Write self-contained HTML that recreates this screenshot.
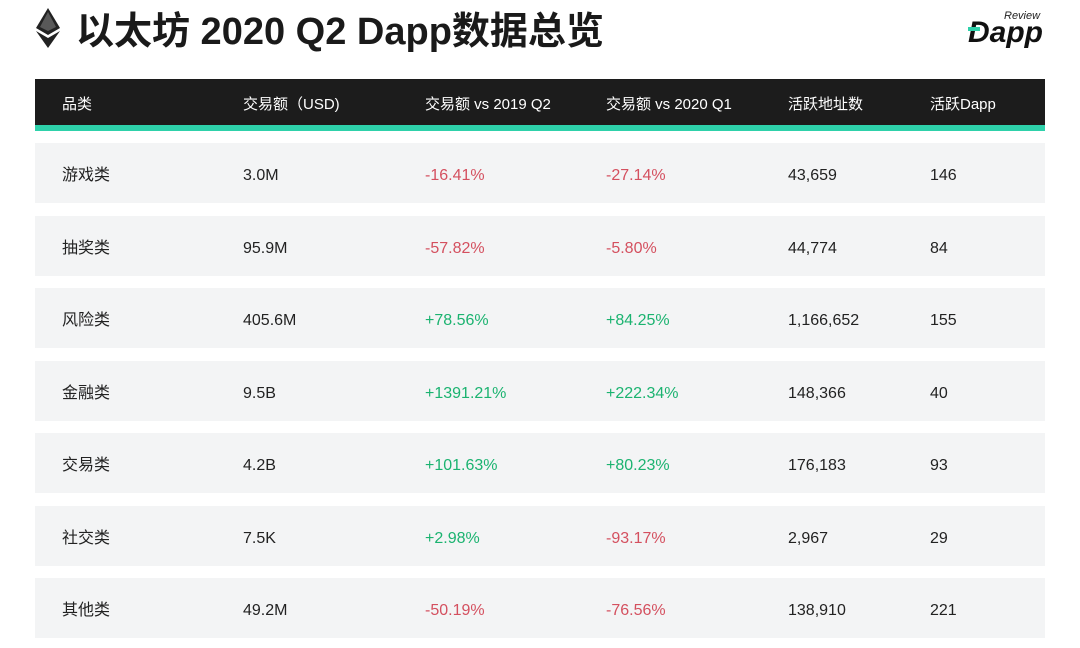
<!DOCTYPE html>
<html><head><meta charset="utf-8"><style>
*{margin:0;padding:0;box-sizing:border-box}
body{width:1080px;height:648px;background:#fff;position:relative;overflow:hidden;font-family:"Liberation Sans","Noto Sans CJK SC",sans-serif;color:#222}
.abs{position:absolute}
#title{left:76px;top:7px;font-size:38px;font-weight:bold;color:#1a1a1a;line-height:50px;letter-spacing:0px}
#header{left:35px;top:79px;width:1010px;height:47px;background:#1c1c1c}
#strip{left:35px;top:125px;width:1010px;height:6px;background:#2ed1aa}
.row{position:absolute;left:35px;width:1010px;height:60px;background:#f3f4f5}
.cell{position:absolute;font-size:16px;line-height:20px;white-space:nowrap}
.h{color:#fff;font-size:15px}
.neg{color:#d4505f}.pos{color:#1bb370}
</style></head><body>
<svg class="abs" style="left:36px;top:8px" width="24" height="40" viewBox="0 0 24 40"><polygon points="12,0 24,20 12,27 0,20" fill="#222"/><polygon points="12,30 24,23 12,40 0,23" fill="#222"/><polygon points="12,4 20,19 12,23 4,19" fill="#fff" opacity="0.25"/></svg>
<div id="title" class="abs">以太坊 2020 Q2 Dapp数据总览</div>
<div class="abs" style="left:968px;top:8px;width:80px;height:40px">
<div class="abs" style="left:36px;top:2px;font-size:11px;font-style:italic;color:#222">Review</div>
<div class="abs" style="left:0;top:8px;font-size:30px;font-weight:bold;font-style:italic;color:#111;line-height:34px">Dapp</div>
<div class="abs" style="left:0px;top:19px;width:12px;height:4px;background:#2ed1aa"></div>
</div>
<div id="header" class="abs"></div>
<div id="strip" class="abs"></div>
<div id="tbl"></div>
<script>
const headers=["品类","交易额（USD)","交易额 vs 2019 Q2","交易额 vs 2020 Q1","活跃地址数","活跃Dapp"];
const categories=["游戏类","抽奖类","风险类","金融类","交易类","社交类","其他类"];
const volumes=["3.0M","95.9M","405.6M","9.5B","4.2B","7.5K","49.2M"];
const yoy=["-16.41%","-57.82%","+78.56%","+1391.21%","+101.63%","+2.98%","-50.19%"];
const qoq=["-27.14%","-5.80%","+84.25%","+222.34%","+80.23%","-93.17%","-76.56%"];
const addrs=["43,659","44,774","1,166,652","148,366","176,183","2,967","138,910"];
const dapps=["146","84","155","40","93","29","221"];
const colX=[62,243,425,606,788,930];
const b=document.body;
headers.forEach((t,i)=>{const d=document.createElement('div');d.className='cell h';d.style.left=colX[i]+'px';d.style.top='95px';d.textContent=t;


b.appendChild(d);});
categories.forEach((c,r)=>{
const top=143+r*72.5;
const row=document.createElement('div');row.className='row';row.style.top=top+'px';


b.appendChild(row);
const vals=[c,volumes[r],yoy[r],qoq[r],addrs[r],dapps[r]];
vals.forEach((v,i)=>{const d=document.createElement('div');d.className='cell';
if(i==2||i==3)d.className+=v[0]=='-'?' neg':' pos';
d.style.left=colX[i]+'px';d.style.top=(top+23)+'px';d.textContent=v;


b.appendChild(d);});
});
</script>
</body></html>
